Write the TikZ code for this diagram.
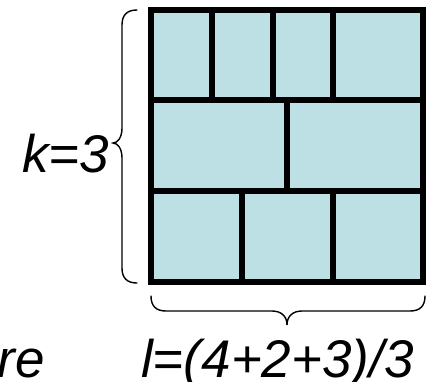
\documentclass[tikz,border=0pt]{standalone}
\usepackage{fontspec}
\setmainfont{Liberation Sans}
\definecolor{cellfill}{RGB}{188,224,227}
\begin{document}
\begin{tikzpicture}[x=1pt,y=-1pt,
  gridline/.style={line width=6pt,black},
  bracestroke/.style={line width=1.4pt,black,line cap=round},
  lbl/.style={inner sep=0pt,font=\fontsize{53}{60}\selectfont\itshape}]
\useasboundingbox (0,0) rectangle (431,381);
% cells
\fill[cellfill] (151.3,9.7) rectangle (423.3,282);
% inner lines
\draw[gridline] (151.3,100) -- (423.3,100);
\draw[gridline] (151.3,191) -- (423.3,191);
\draw[gridline] (211.7,9.7) -- (211.7,100);
\draw[gridline] (272.7,9.7) -- (272.7,100);
\draw[gridline] (332.7,9.7) -- (332.7,100);
\draw[gridline] (287.2,100) -- (287.2,191);
\draw[gridline] (242,191) -- (242,282);
\draw[gridline] (332.7,191) -- (332.7,282);
% outer frame
\draw[gridline,line join=miter] (151.3,9.7) rectangle (423.3,282);
% left brace
\draw[bracestroke] (137,10) .. controls (127,10) and (122,15) .. (122,25)
  -- (122,128) .. controls (122,137) and (118,143) .. (113,143)
  .. controls (118,143) and (122,149) .. (122,158)
  -- (122,268) .. controls (122,278) and (127,283) .. (137,283);
% bottom brace
\draw[bracestroke] (151,296) .. controls (151,306) and (156,311) .. (166,311)
  -- (272,311) .. controls (281,311) and (287,316) .. (287,325)
  .. controls (287,316) and (293,311) .. (302,311)
  -- (410,311) .. controls (420,311) and (425,306) .. (425,296);
% labels
\node[lbl,anchor=base west] (k) at (22,172) {k=3};
\node[lbl,anchor=base west] (l) at (141,377) {l=(4+2+3)/3};
\node[lbl,anchor=base east] (re) at (45,377) {re};
\end{tikzpicture}
\end{document}
